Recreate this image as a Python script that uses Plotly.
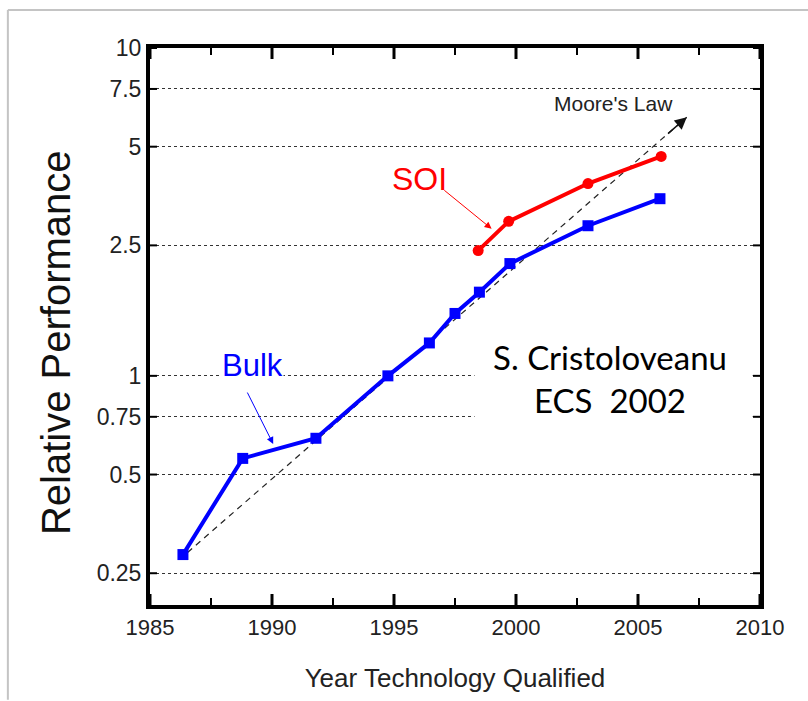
import math
import plotly.graph_objects as go

# Relative performance vs. year of qualification (log scale)
bulk_years = [1986.35, 1988.8, 1991.8, 1994.75, 1996.45, 1997.5, 1998.5, 1999.75, 2002.95, 2005.9]
bulk_perf = [0.285, 0.56, 0.645, 1.0, 1.26, 1.55, 1.80, 2.20, 2.87, 3.47]

soi_years = [1998.45, 1999.7, 2002.95, 2005.95]
soi_perf = [2.41, 2.96, 3.86, 4.67]

moore_years = [1986.2, 2007.0]
moore_perf = [0.275, 6.15]

x_ticks = [1985, 1990, 1995, 2000, 2005, 2010]
x_minor_ticks = [1987.5, 1992.5, 1997.5, 2002.5, 2007.5]
y_ticks = [0.25, 0.5, 0.75, 1, 2.5, 5, 7.5, 10]
y_tick_text = ["0.25", "0.5", "0.75", "1", "2.5", "5", "7.5", "10"]

SANS = "Liberation Sans, Arial, sans-serif"
L = math.log10

fig = go.Figure()

# Moore's law trend (dashed)
fig.add_trace(go.Scatter(
    x=moore_years, y=moore_perf, mode="lines",
    line=dict(color="#222222", width=1.2, dash="6px,5px"),
    hoverinfo="skip", showlegend=False,
))
fig.add_trace(go.Scatter(
    x=bulk_years, y=bulk_perf, mode="lines+markers", name="Bulk",
    line=dict(color="#0000ff", width=4),
    marker=dict(symbol="square", size=11, color="#0000ff"),
    showlegend=False,
))
fig.add_trace(go.Scatter(
    x=soi_years, y=soi_perf, mode="lines+markers", name="SOI",
    line=dict(color="#ff0000", width=4),
    marker=dict(symbol="circle", size=11, color="#ff0000"),
    showlegend=False,
))

annotations = []

# arrowhead at the end of the Moore's law line
t = 0.96
ax_m = moore_years[0] + t * (moore_years[1] - moore_years[0])
ay_m = L(moore_perf[0]) + t * (L(moore_perf[1]) - L(moore_perf[0]))
annotations.append(dict(
    x=moore_years[1], y=L(moore_perf[1]), ax=ax_m, ay=ay_m,
    xref="x", yref="y", axref="x", ayref="y", text="",
    showarrow=True, arrowhead=2, arrowsize=1.6, arrowwidth=1.5, arrowcolor="#111111",
))
annotations.append(dict(
    x=2004.0, y=L(6.77), xref="x", yref="y", text="Moore's Law",
    showarrow=False, font=dict(family=SANS, size=21, color="#222222"),
))

# SOI label and pointer
annotations.append(dict(
    x=1996.05, y=L(3.98), xref="x", yref="y", text="SOI",
    showarrow=False, bgcolor="white", borderpad=0,
    font=dict(family=SANS, size=32, color="#ff0000"),
))
annotations.append(dict(
    x=1999.0, y=0.4485, ax=1997.0, ay=0.5697,
    xref="x", yref="y", axref="x", ayref="y", text="",
    showarrow=True, arrowhead=2, arrowsize=1.4, arrowwidth=1, arrowcolor="#ff0000",
))

# Bulk label and pointer
annotations.append(dict(
    x=1989.2, y=L(1.072), xref="x", yref="y", text="Bulk",
    showarrow=False, bgcolor="white", borderpad=0,
    font=dict(family=SANS, size=31, color="#0000ff"),
))
annotations.append(dict(
    x=1990.05, y=-0.208, ax=1988.96, ay=-0.0464,
    xref="x", yref="y", axref="x", ayref="y", text="",
    showarrow=True, arrowhead=2, arrowsize=1.4, arrowwidth=1, arrowcolor="#0000ff",
))

# citation
annotations.append(dict(
    x=2003.85, y=L(0.985), xref="x", yref="y", yanchor="middle",
    text="S. Cristoloveanu<br>ECS  2002", align="center",
    showarrow=False, font=dict(family="Lato, Open Sans, sans-serif", size=33, color="black"),
))

# y-axis title
annotations.append(dict(
    x=-0.155, y=0.471, xref="paper", yref="paper", xanchor="center", yanchor="middle",
    textangle=-90, text="Relative Performance", showarrow=False,
    font=dict(family=SANS, size=40, color="#111111"),
))

shapes = [
    # white panel behind the citation
    dict(type="rect", xref="x", yref="y", x0=1998.3, x1=2009.7, y0=0.55, y1=1.4,
         fillcolor="white", line=dict(width=0), layer="above"),
    # thin grey page frame
    dict(type="line", xref="paper", yref="paper", x0=-0.233, x1=1.08, y0=1.068, y1=1.068,
         line=dict(color="#c4c4c4", width=2)),
    dict(type="line", xref="paper", yref="paper", x0=-0.233, x1=-0.233, y0=1.068, y1=-0.17,
         line=dict(color="#c4c4c4", width=2)),
]


def x_tick_marks(values, length, width):
    """Inward tick marks on the bottom and top frame edges at the given years."""
    marks = []
    for v in values:
        for anchor, sign in ((0, 1), (1, -1)):
            marks.append(dict(type="line", xref="x", yref="paper", ysizemode="pixel",
                              yanchor=anchor, x0=v, x1=v, y0=0, y1=sign * length,
                              line=dict(color="black", width=width)))
    return marks


def y_tick_marks(values, length, width):
    """Inward tick marks on the left and right frame edges at the given values."""
    marks = []
    for v in values:
        for anchor, sign in ((0, 1), (1, -1)):
            marks.append(dict(type="line", xref="paper", yref="y", xsizemode="pixel",
                              xanchor=anchor, x0=0, x1=sign * length, y0=v, y1=v,
                              line=dict(color="black", width=width)))
    return marks


shapes += x_tick_marks(x_ticks, 11, 3)
shapes += x_tick_marks(x_minor_ticks, 7, 2)
shapes += y_tick_marks(y_ticks, 7, 2)

fig.update_layout(
    width=808, height=701,
    margin=dict(l=150, r=48, t=48, b=93),
    paper_bgcolor="white", plot_bgcolor="white",
    annotations=annotations, shapes=shapes,
    showlegend=False,
    xaxis=dict(
        range=[1985, 2010], tickmode="array", tickvals=x_ticks,
        showgrid=False, zeroline=False,
        showline=True, linecolor="black", linewidth=4, mirror=True,
        ticks="",
        tickfont=dict(family=SANS, size=22, color="#222222"),
        title=dict(text="Year Technology Qualified", font=dict(family=SANS, size=26, color="#222222"), standoff=30),
    ),
    yaxis=dict(
        type="log", range=[L(0.2), 1.0],
        tickmode="array", tickvals=y_ticks, ticktext=y_tick_text,
        showgrid=True, gridcolor="#333333", gridwidth=1.2, griddash="dot",
        zeroline=False,
        showline=True, linecolor="black", linewidth=4, mirror=True,
        ticks="",
        tickfont=dict(family=SANS, size=23, color="#222222"),
    ),
)

fig.write_html("out.html")
